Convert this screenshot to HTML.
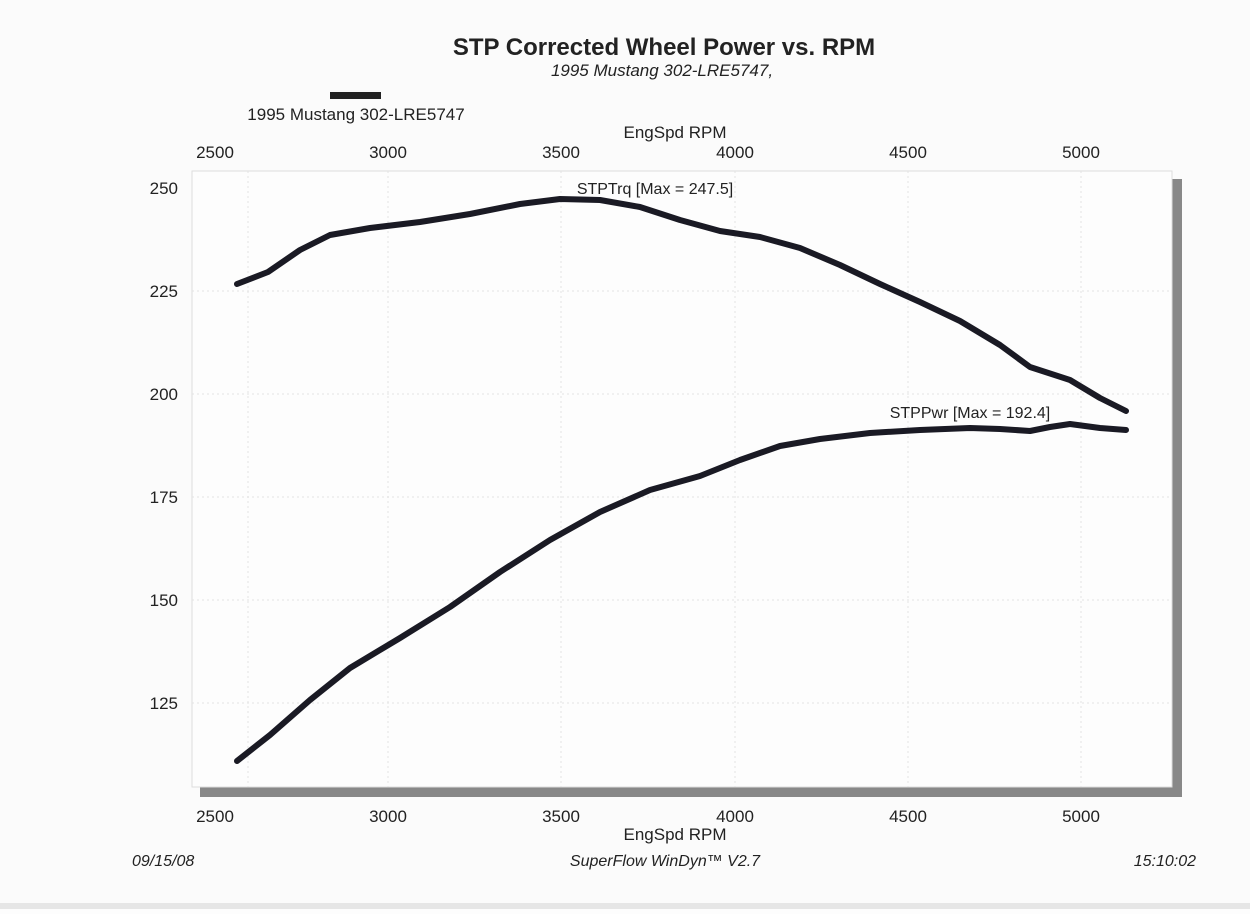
<!DOCTYPE html>
<html><head><style>
body{margin:0;background:#fdfdfd;}
svg text{font-family:"Liberation Sans",sans-serif;fill:#222;}
</style></head><body>
<svg width="1250" height="909" viewBox="0 0 1250 909" xmlns="http://www.w3.org/2000/svg">
<rect width="1250" height="909" fill="#fbfbfb"/>
<text x="664" y="55" font-size="24" font-weight="bold" text-anchor="middle">STP Corrected Wheel Power vs. RPM</text>
<text x="662" y="76" font-size="17" font-style="italic" text-anchor="middle">1995 Mustang 302-LRE5747,</text>
<rect x="330" y="92" width="51" height="7" fill="#222"/>
<text x="356" y="120" font-size="17" text-anchor="middle">1995 Mustang 302-LRE5747</text>
<text x="675" y="138" font-size="17" text-anchor="middle">EngSpd  RPM</text>
<g font-size="17" text-anchor="middle">
<text x="215" y="158">2500</text><text x="388" y="158">3000</text><text x="561" y="158">3500</text><text x="735" y="158">4000</text><text x="908" y="158">4500</text><text x="1081" y="158">5000</text>
<text x="215" y="822">2500</text><text x="388" y="822">3000</text><text x="561" y="822">3500</text><text x="735" y="822">4000</text><text x="908" y="822">4500</text><text x="1081" y="822">5000</text>
</g>
<text x="675" y="840" font-size="17" text-anchor="middle">EngSpd  RPM</text>
<g font-size="17" text-anchor="end">
<text x="178" y="194">250</text><text x="178" y="297">225</text><text x="178" y="400">200</text><text x="178" y="503">175</text><text x="178" y="606">150</text><text x="178" y="709">125</text>
</g>
<rect x="1172" y="179" width="10" height="618" fill="#888"/>
<rect x="200" y="787" width="982" height="10" fill="#888"/>
<rect x="192" y="171" width="980" height="616" fill="#fdfdfd" stroke="#ddd" stroke-width="1"/>
<g stroke="#e4e4e4" stroke-dasharray="2,3" stroke-width="1">
<line x1="248" y1="171" x2="248" y2="787"/><line x1="388" y1="171" x2="388" y2="787"/><line x1="561" y1="171" x2="561" y2="787"/><line x1="735" y1="171" x2="735" y2="787"/><line x1="908" y1="171" x2="908" y2="787"/><line x1="1081" y1="171" x2="1081" y2="787"/>
<line x1="192" y1="291" x2="1172" y2="291"/><line x1="192" y1="394" x2="1172" y2="394"/><line x1="192" y1="497" x2="1172" y2="497"/><line x1="192" y1="600" x2="1172" y2="600"/><line x1="192" y1="703" x2="1172" y2="703"/>
</g>
<g fill="none" stroke="#1a1a24" stroke-width="6" stroke-linecap="round" stroke-linejoin="round">
<polyline points="237,284 268,272 300,250 330,235 370,228 420,222 470,214 520,204 560,199 600,200 640,207 680,220 720,231 760,237 800,248 840,265 880,284 920,302 960,321 1000,345 1030,367 1070,380 1100,398 1126,411"/>
<polyline points="237,761 270,735 310,700 350,668 400,638 450,607 500,572 550,540 600,512 650,490 700,476 740,460 780,446 820,439 870,433 920,430 970,428 1000,429 1030,431 1050,427 1070,424 1100,428 1126,430"/>
</g>
<text x="655" y="194" font-size="16" text-anchor="middle" fill="#444">STPTrq [Max = 247.5]</text>
<text x="970" y="418" font-size="16" text-anchor="middle" fill="#444">STPPwr [Max = 192.4]</text>
<text x="132" y="866" font-size="16" font-style="italic">09/15/08</text>
<text x="665" y="866" font-size="16" font-style="italic" text-anchor="middle">SuperFlow WinDyn™ V2.7</text>
<text x="1196" y="866" font-size="16" font-style="italic" text-anchor="end">15:10:02</text>
<rect x="0" y="903" width="1250" height="6" fill="#e6e6e6"/>
</svg>
</body></html>
